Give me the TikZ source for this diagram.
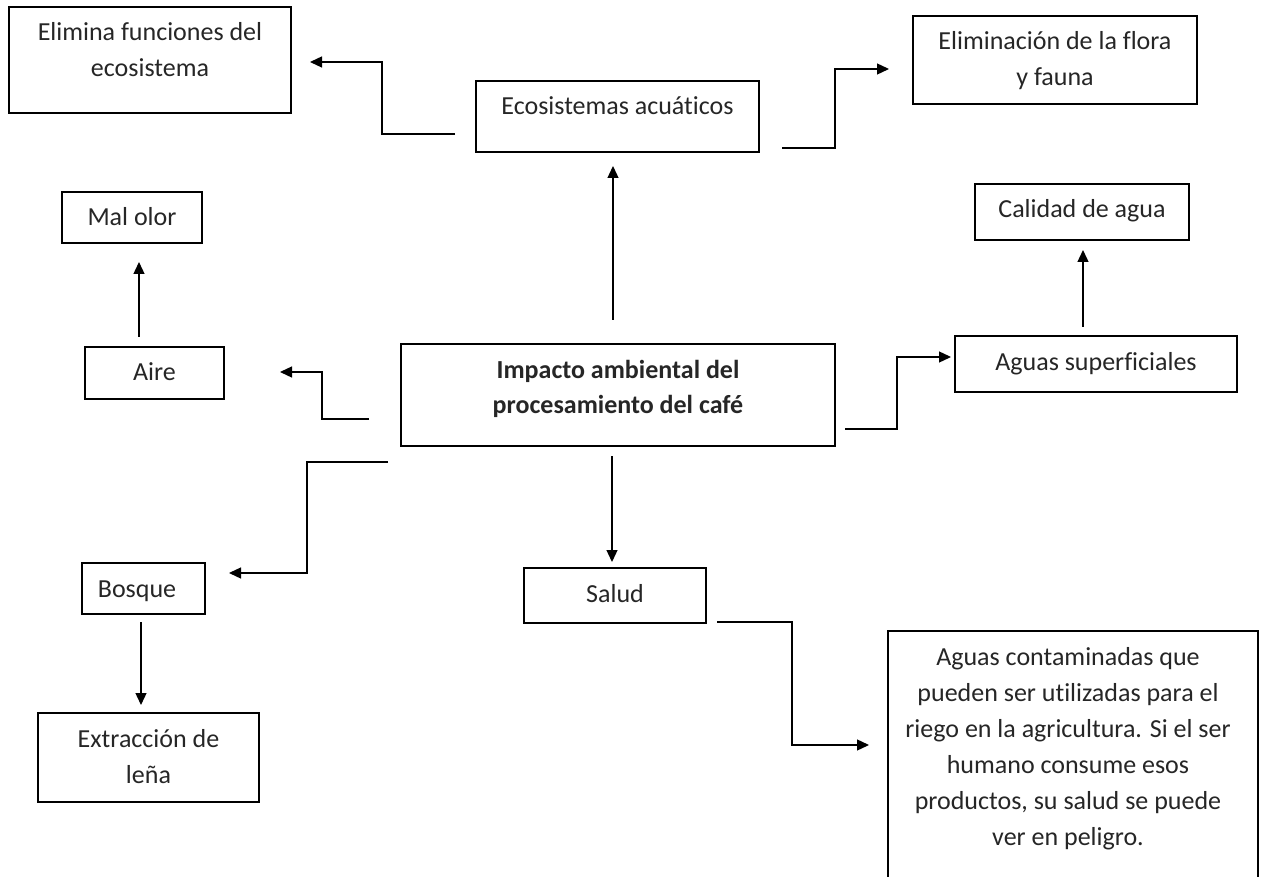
\documentclass[tikz,border=0pt]{standalone}
\usepackage{fontspec}
\setmainfont{Carlito}[RawFeature={-liga;-clig;-dlig}]
\usetikzlibrary{arrows.meta}
\newcommand{\tx}[2]{\raisebox{#1pt}[0pt][0pt]{\begin{tabular}[b]{@{}c@{}}#2\end{tabular}}}
\begin{document}
\begin{tikzpicture}[x=1pt,y=-1pt,
  box/.style={draw=black,line width=1.3pt,rectangle,inner sep=0pt,
    font=\fontsize{26}{36}\selectfont,text=black!85},
  arr/.style={draw=black,line width=1.3pt,-{Triangle[length=12pt,width=11pt]}},
  ln/.style={draw=black,line width=1.3pt}]
\useasboundingbox (0,0) rectangle (1264,877);
\fill[white] (0,0) rectangle (1264,877);
\clip (0,0) rectangle (1264,877);

\node[box,minimum width=282pt,minimum height=106pt] (elim) at (150,60) {\tx{-17}{Elimina funciones del\\ecosistema}};
\node[box,minimum width=283pt,minimum height=71pt] (eco) at (617.5,116.5) {\tx{1.5}{Ecosistemas acuáticos}};
\node[box,minimum width=284pt,minimum height=88pt] (flora) at (1055,60) {\tx{-25.5}{Eliminación de la flora\\y fauna}};
\node[box,minimum width=140pt,minimum height=51pt] (malolor) at (132,217.5) {\tx{-8.5}{Mal olor}};
\node[box,minimum width=214pt,minimum height=56pt] (calidad) at (1082,212) {\tx{-6}{Calidad de agua}};
\node[box,minimum width=139pt,minimum height=52pt] (aire) at (154.5,373) {\tx{-8}{Aire}};
\node[box,minimum width=434pt,minimum height=102pt] (impacto) at (618,395) {\tx{-19}{\textbf{Impacto ambiental del}\\\textbf{procesamiento del café}}};
\node[box,minimum width=282pt,minimum height=56pt] (aguas) at (1096,364) {\tx{-6}{Aguas superficiales}};
\node[box,minimum width=123pt,minimum height=51pt] (bosque) at (143.5,588.5) {\tx{-8.5}{Bosque}\hspace*{13pt}};
\node[box,minimum width=182pt,minimum height=55pt] (salud) at (615,595.5) {\tx{-6.5}{Salud}};
\node[box,minimum width=221pt,minimum height=89pt] (lena) at (148.5,757.5) {\tx{-25.5}{Extracción de\\leña}};
\node[box,minimum width=370pt,minimum height=269pt] (big) at (1073,765.5) {\tx{-79.5}{Aguas contaminadas que\\pueden ser utilizadas para el\\riego en la agricultura. Si el ser\\humano consume esos\\productos, su salud se puede\\ver en peligro.}\hspace*{10pt}};

% connector end points
\coordinate (ecoL) at (455,134);
\coordinate (elimR) at (310,62);
\coordinate (ecoR) at (782,148);
\coordinate (floraL) at (889,69);
\coordinate (impT) at (613,320);
\coordinate (ecoB) at (613,166);
\coordinate (aireT) at (139,337);
\coordinate (malB) at (139,262);
\coordinate (aguasT) at (1083,327);
\coordinate (calB) at (1083,250);
\coordinate (impL1) at (369,419);
\coordinate (aireR) at (280,372);
\coordinate (impR) at (845,429);
\coordinate (aguasL) at (951,357);
\coordinate (impL2) at (388,462);
\coordinate (bosR) at (229,573);
\coordinate (impB) at (612,456);
\coordinate (saludT) at (612,562);
\coordinate (bosB) at (141,622);
\coordinate (lenaT) at (141,705);
\coordinate (saludR) at (717,622);
\coordinate (bigL) at (869,745);

\draw[arr] (ecoL) -- ++(-73,0) |- (elimR);
\draw[arr] (ecoR) -- ++(53,0) |- (floraL);
\draw[arr] (impT) -- (ecoB);
\draw[arr] (aireT) -- (malB);
\draw[arr] (aguasT) -- (calB);
\draw[arr] (impL1) -- ++(-47,0) |- (aireR);
\draw[arr] (impR) -- ++(52,0) |- (aguasL);
\draw[arr] (impL2) -- ++(-81,0) |- (bosR);
\draw[arr] (impB) -- (saludT);
\draw[arr] (bosB) -- (lenaT);
\draw[arr] (saludR) -- ++(75,0) |- (bigL);
\end{tikzpicture}
\end{document}
